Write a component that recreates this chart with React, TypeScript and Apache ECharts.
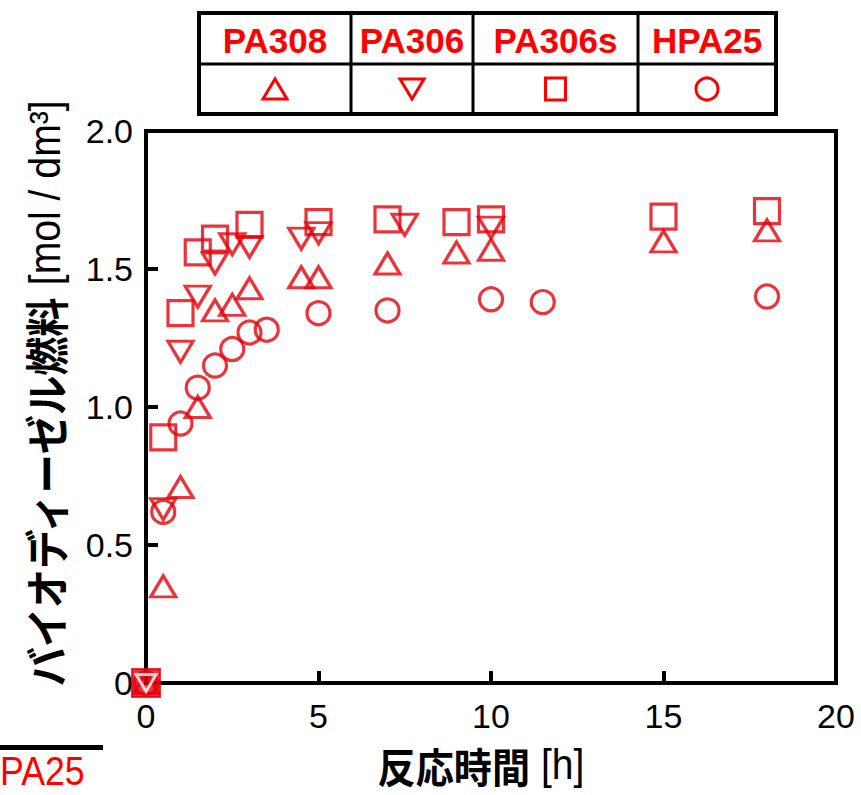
import React, { useEffect, useRef } from "react";
import * as echarts from "echarts";

// ---- data ----
const seriesNames = ["PA308", "PA306", "PA306s", "HPA25"];

const pa308Time = [0, 0.5, 1, 1.5, 2, 2.5, 3, 4.5, 5, 7, 9, 10, 15, 18];
const pa308Value = [0, 0.35, 0.71, 1.0, 1.35, 1.37, 1.43, 1.47, 1.47, 1.52, 1.56, 1.57, 1.6, 1.64];

const pa306Time = [0, 0.5, 1, 1.5, 2, 2.5, 3, 4.5, 5, 7.5, 10];
const pa306Value = [0, 0.63, 1.2, 1.4, 1.52, 1.59, 1.58, 1.61, 1.63, 1.66, 1.65];

const pa306sTime = [0, 0.5, 1, 1.5, 2, 3, 5, 7, 9, 10, 15, 18];
const pa306sValue = [0, 0.89, 1.34, 1.56, 1.61, 1.66, 1.67, 1.68, 1.67, 1.68, 1.69, 1.71];

const hpa25Time = [0, 0.5, 1, 1.5, 2, 2.5, 3, 3.5, 5, 7, 10, 11.5, 18];
const hpa25Value = [0, 0.62, 0.94, 1.07, 1.15, 1.21, 1.27, 1.28, 1.34, 1.35, 1.39, 1.38, 1.4];

const xTicks = [0, 5, 10, 15, 20];
const yTicks = [0, 0.5, 1.0, 1.5, 2.0];

const RED = "#e6000a";
const TXT_RED = "#ff0000";
const LATIN = "'Liberation Sans', Arial, Helvetica, sans-serif";
const CJK = "'Noto Sans CJK JP', 'Noto Sans CJK SC', sans-serif";

function pairs(t: number[], v: number[]) {
  return t.map((x, i) => [x, v[i]]);
}

export default function App() {
  const ref = useRef<HTMLDivElement>(null);

  useEffect(() => {
    if (!ref.current) return;
    const chart = echarts.init(ref.current, undefined, { renderer: "svg" });

    const hollow = { color: "rgba(0,0,0,0)", borderColor: RED, borderWidth: 3.2 };

    // legend table geometry
    const tL = 199, tR = 776, tT = 13, tB = 114, tMid = 64;
    const cols = [tL, 351, 473, 638, tR];
    const centers = cols.slice(0, 4).map((c, i) => (c + cols[i + 1]) / 2);
    const symY = 89;

    const tableLines: any[] = [
      { type: "rect", shape: { x: tL, y: tT, width: tR - tL, height: tB - tT }, style: { fill: "none", stroke: "#000", lineWidth: 4 } },
      { type: "line", shape: { x1: tL, y1: tMid, x2: tR, y2: tMid }, style: { stroke: "#000", lineWidth: 3 } },
      ...cols.slice(1, 4).map((c) => ({ type: "line", shape: { x1: c, y1: tT, x2: c, y2: tB }, style: { stroke: "#000", lineWidth: 3 } })),
      ...seriesNames.map((n, i) => ({
        type: "text",
        x: centers[i],
        y: 40,
        style: { text: n, fill: TXT_RED, fontSize: 35, fontWeight: "bold", fontFamily: LATIN, align: "center", verticalAlign: "middle", textAlign: "center", textVerticalAlign: "middle" },
      })),
      { type: "polygon", shape: { points: [[centers[0], symY - 10], [centers[0] - 12, symY + 10], [centers[0] + 12, symY + 10]] }, style: { fill: "none", stroke: TXT_RED, lineWidth: 3 } },
      { type: "polygon", shape: { points: [[centers[1], symY + 10], [centers[1] - 12, symY - 10], [centers[1] + 12, symY - 10]] }, style: { fill: "none", stroke: TXT_RED, lineWidth: 3 } },
      { type: "rect", shape: { x: centers[2] - 10, y: symY - 11, width: 20, height: 22 }, style: { fill: "none", stroke: TXT_RED, lineWidth: 3 } },
      { type: "circle", shape: { cx: centers[3], cy: symY, r: 11 }, style: { fill: "none", stroke: TXT_RED, lineWidth: 3 } },
    ];

    const option: any = {
      animation: false,
      backgroundColor: "#fff",
      grid: { left: 146, right: 25, top: 131, bottom: 112, show: true, borderColor: "#000", borderWidth: 4, backgroundColor: "transparent" },
      xAxis: {
        type: "value",
        min: xTicks[0],
        max: xTicks[xTicks.length - 1],
        interval: 5,
        axisLine: { show: true, onZero: false, lineStyle: { color: "#000", width: 4 } },
        axisTick: { show: true, inside: true, length: 12, lineStyle: { color: "#000", width: 4 } },
        axisLabel: { color: "#000", fontSize: 34, fontFamily: LATIN, margin: 16 },
        splitLine: { show: false },
      },
      yAxis: {
        type: "value",
        min: yTicks[0],
        max: yTicks[yTicks.length - 1],
        interval: 0.5,
        axisLine: { show: true, onZero: false, lineStyle: { color: "#000", width: 4 } },
        axisTick: { show: true, inside: true, length: 12, lineStyle: { color: "#000", width: 4 } },
        axisLabel: {
          color: "#000",
          fontSize: 34,
          fontFamily: LATIN,
          margin: 13,
          formatter: (v: number) => (v === 0 ? "0" : v.toFixed(1)),
        },
        splitLine: { show: false },
      },
      series: [
        {
          name: "PA308",
          type: "scatter",
          clip: false,
          symbol: "triangle",
          symbolSize: [25, 21],
          itemStyle: hollow,
          data: pairs(pa308Time, pa308Value),
          z: 2,
        },
        {
          name: "HPA25",
          type: "scatter",
          clip: false,
          symbol: "circle",
          symbolSize: 23,
          itemStyle: hollow,
          data: pairs(hpa25Time, hpa25Value),
          z: 2,
        },
        {
          name: "PA306s",
          type: "scatter",
          clip: false,
          symbol: "rect",
          symbolSize: 25,
          itemStyle: hollow,
          data: pairs(pa306sTime, pa306sValue).map((p, i) =>
            i === 0 ? { value: p, symbolSize: 28, itemStyle: { color: RED, borderColor: RED, borderWidth: 2 } } : p
          ),
          z: 3,
        },
        {
          name: "PA306",
          type: "scatter",
          clip: false,
          symbol: "triangle",
          symbolRotate: 180,
          symbolSize: [25, 21],
          itemStyle: hollow,
          data: pairs(pa306Time, pa306Value).map((p, i) =>
            i === 0 ? { value: p, symbolSize: [20, 17], itemStyle: { color: "rgba(0,0,0,0)", borderColor: "#fff", borderWidth: 3 } } : p
          ),
          z: 4,
        },
      ],
      graphic: [
        ...tableLines,
        {
          type: "text",
          x: 45,
          y: 394,
          rotation: Math.PI / 2,
          scaleX: 0.89,
          style: {
            text: "{a|バイオディーゼル燃料}{b| [mol / dm³]}",
            fill: "#000",
            align: "center",
            verticalAlign: "middle",
            textAlign: "center",
            textVerticalAlign: "middle",
            rich: {
              a: { fontSize: 44, fontWeight: "bold", fontFamily: CJK, fill: "#000", color: "#000" },
              b: { fontSize: 44, fontWeight: "normal", fontFamily: LATIN, fill: "#000", color: "#000" },
            },
          },
        },
        {
          type: "text",
          x: 481,
          y: 765,
          scaleX: 0.93,
          style: {
            text: "{a|反応時間}{b| [h]}",
            fill: "#000",
            align: "center",
            verticalAlign: "middle",
            textAlign: "center",
            textVerticalAlign: "middle",
            rich: {
              a: { fontSize: 41, lineHeight: 40, fontWeight: "bold", fontFamily: CJK, fill: "#000", color: "#000" },
              b: { fontSize: 42, lineHeight: 40, fontWeight: "normal", fontFamily: LATIN, fill: "#000", color: "#000" },
            },
          },
        },
        { type: "rect", shape: { x: 0, y: 745, width: 103, height: 5 }, style: { fill: "#000" } },
        {
          type: "text",
          x: 0,
          y: 771,
          scaleX: 0.87,
          style: { text: "PA25", fill: TXT_RED, fontSize: 41, fontFamily: LATIN, align: "left", verticalAlign: "middle", textAlign: "left", textVerticalAlign: "middle" },
        },
      ],
    };

    chart.setOption(option);
    return () => chart.dispose();
  }, []);

  return <div ref={ref} style={{ position: "absolute", left: 0, top: 0, width: 861, height: 795 }} />;
}
